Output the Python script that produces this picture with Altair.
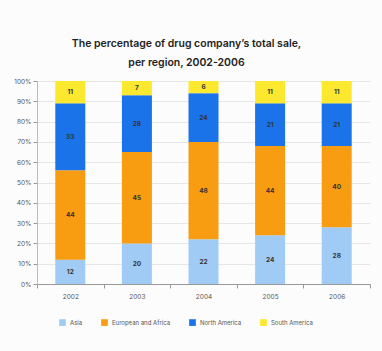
import altair as alt
import pandas as pd

years = ["2002", "2003", "2004", "2005", "2006"]
regions = ["Asia", "European and Africa", "North America", "South America"]
asia = [12, 20, 22, 24, 28]
europe_africa = [44, 45, 48, 44, 40]
north_america = [33, 28, 24, 21, 21]
south_america = [11, 7, 6, 11, 11]
colors = ["#a0cbf5", "#f89c12", "#1a73e8", "#fce82e"]

series = [asia, europe_africa, north_america, south_america]
rows = []
for i, yr in enumerate(years):
    for k, (reg, vals) in enumerate(zip(regions, series)):
        rows.append({"year": yr, "region": reg, "value": vals[i], "order": k})
df = pd.DataFrame(rows)

base = alt.Chart(df).transform_stack(
    stack="value", groupby=["year"], as_=["v0", "v1"],
    sort=[alt.SortField("order", order="ascending")]
).transform_calculate(mid="(datum.v0 + datum.v1) / 2")

xenc = alt.X(
    "year:N", sort=years,
    scale=alt.Scale(paddingInner=0, paddingOuter=0),
    axis=alt.Axis(title=None, labelAngle=0, labelFontSize=6.5, labelColor="#555",
                  labelPadding=5, tickBand="extent", tickSize=4, tickColor="#999",
                  domainColor="#999", grid=False, labelFont="Inter"),
)

yaxis = alt.Axis(title=None, values=list(range(0, 101, 10)),
                 labelExpr="datum.value + '%'", labelFontSize=6.5,
                 labelColor="#555", labelFont="Inter", tickSize=4,
                 tickColor="#999", domainColor="#bbb", labelPadding=2,
                 labelOverlap=False,
                 grid=True, gridColor="#e6e6e6")

bars = base.mark_bar(width=30).encode(
    x=xenc,
    y=alt.Y("v0:Q", scale=alt.Scale(domain=[0, 100]), axis=yaxis),
    y2="v1:Q",
    color=alt.Color("region:N", scale=alt.Scale(domain=regions, range=colors),
                    legend=alt.Legend(title=None, orient="none", legendX=22, legendY=238,
                                      direction="horizontal", symbolType="square",
                                      symbolSize=45, symbolStrokeWidth=0,
                                      labelFontSize=6, labelColor="#555", labelFont="Inter",
                                      columnPadding=18, labelOffset=4)),
    order=alt.Order("order:Q"),
)

text = base.mark_text(fontSize=6.5, fontWeight="bold", color="#333", font="Inter").encode(
    x=alt.X("year:N", sort=years),
    y=alt.Y("mid:Q", scale=alt.Scale(domain=[0, 100]), axis=yaxis),
    text="value:Q",
)

chart = alt.layer(bars, text).properties(
    width=333, height=203,
    title=alt.Title(["The percentage of drug company\u2019s total sale,", "per region, 2002-2006"],
                    fontSize=10.5, fontWeight=600, color="#222", font="Inter",
                    anchor="middle", lineHeight=19, offset=10, dx=-17),
    autosize=alt.AutoSizeParams(type="none"),
    padding={"left": 37, "top": 81, "right": 12, "bottom": 67},
    background="#fcfcfc",
).configure_view(stroke=None)

chart.save("out.html", embed_options={"renderer": "svg", "actions": False})
